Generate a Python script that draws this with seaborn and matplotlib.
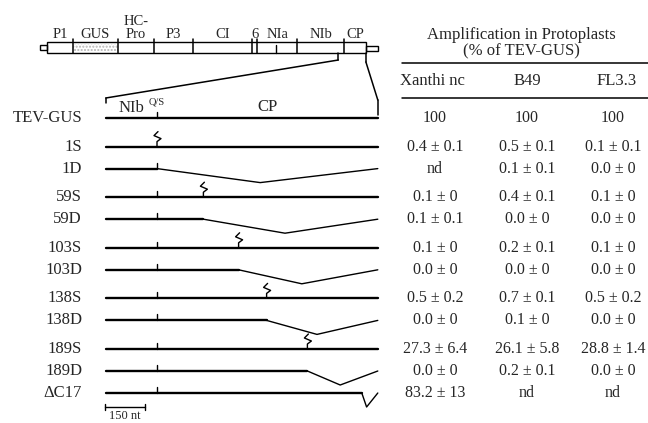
import numpy as np
import pandas as pd
import matplotlib
matplotlib.use("Agg")
import matplotlib.pyplot as plt
import seaborn as sns
from matplotlib.patches import Rectangle, ConnectionPatch
from matplotlib.lines import Line2D
from matplotlib.transforms import blended_transform_factory

# ---------------- data ----------------
gene_names = ["P1", "GUS", "HC-\nPro", "P3", "CI", "6", "NIa", "NIb", "CP"]
gene_starts_kb = [0.23, 1.10, 2.61, 3.81, 5.12, 7.09, 7.26, 8.60, 10.17]
gene_ends_kb = [1.10, 2.61, 3.81, 5.12, 7.09, 7.26, 8.60, 10.17, 10.90]
nia_internal_kb = 7.89
genome_end_kb = 11.30

constructs = ["TEV-GUS", "1S", "1D", "59S", "59D", "103S", "103D",
              "138S", "138D", "189S", "189D", "ΔC17"]
mut_type = ["wt", "S", "D", "S", "D", "S", "D", "S", "D", "S", "D", "D"]
mut_pos_aa = [None, 1, 1, 59, 59, 103, 103, 138, 138, 189, 189, 257]
del_bottom_aa = [None, None, 130, None, 161, None, 182, None, 201, None, 230, 263]
region_start_aa = -63
region_end_aa = 277
qs_site_aa = 1
scale_nt = 150

xanthi_mean = [100, 0.4, None, 0.1, 0.1, 0.1, 0.0, 0.5, 0.0, 27.3, 0.0, 83.2]
xanthi_sd = [None, 0.1, None, 0, 0.1, 0, 0, 0.2, 0, 6.4, 0, 13]
b49_mean = [100, 0.5, 0.1, 0.4, 0.0, 0.2, 0.0, 0.7, 0.1, 26.1, 0.2, None]
b49_sd = [None, 0.1, 0.1, 0.1, 0, 0.1, 0, 0.1, 0, 5.8, 0.1, None]
fl33_mean = [100, 0.1, 0.0, 0.1, 0.0, 0.1, 0.0, 0.5, 0.0, 28.8, 0.0, None]
fl33_sd = [None, 0.1, 0, 0, 0, 0, 0, 0.2, 0, 1.4, 0, None]
column_names = ["Xanthi nc", "B49", "FL3.3"]

# ---------------- layout (pixels) ----------------
W, H = 648, 423
MAP_X0, MAP_SCALE = 40, 29.9      # px = MAP_X0 + MAP_SCALE * kb
CP_X0, CP_SCALE = 157, 0.8        # px = CP_X0 + CP_SCALE * (aa - 1)
ROW_Y0, ROW_UNIT = 118, 22        # py = ROW_Y0 + ROW_UNIT * row

sns.set_theme(style="white")
plt.rcParams['font.family'] = ['Liberation Serif', 'DejaVu Serif']

fig = plt.figure(figsize=(W / 100, H / 100), dpi=100)

ax_map = fig.add_axes([0, 0, 1, 1])
ax_map.set_xlim((0 - MAP_X0) / MAP_SCALE, (W - MAP_X0) / MAP_SCALE)
ax_map.set_ylim(H, 0)
ax_map.axis("off")

ax_cp = fig.add_axes([0, 0, 1, 1])
ax_cp.patch.set_alpha(0)

px_aa = 1 / CP_SCALE   # aa per pixel
px_row = 1 / ROW_UNIT  # row per pixel

# ---------------- genome map ----------------
bar_top, bar_bot = 42.5, 53
ax_map.add_patch(Rectangle((gene_starts_kb[0], bar_top), gene_ends_kb[-1] - gene_starts_kb[0],
                           bar_bot - bar_top, fill=False, ec="black", lw=1.0))
ax_map.add_patch(Rectangle((gene_starts_kb[1], bar_top + 1.5), gene_ends_kb[1] - gene_starts_kb[1],
                           bar_bot - bar_top - 3, fill=False, ec="#b5b5b5", lw=0, hatch="....."))
ax_map.add_patch(Rectangle((0, 45), gene_starts_kb[0], 5, fill=False, ec="black", lw=1.0))
ax_map.add_patch(Rectangle((gene_ends_kb[-1], 46.5), genome_end_kb - gene_ends_kb[-1], 4.5,
                           fill=False, ec="black", lw=1.0))
for b in gene_ends_kb[:-1]:
    ax_map.plot([b, b], [39, bar_bot], color="black", lw=1.1)
ax_map.plot([nia_internal_kb] * 2, [45.5, bar_bot], color="black", lw=1.0)
for name, s, e in zip(gene_names, gene_starts_kb, gene_ends_kb):
    ax_map.text((s + e) / 2, 40.5, name, ha="center", va="bottom", fontsize=10.5,
                linespacing=0.95)

# ---------------- construct rows ----------------
row_y = []
y = 0.0
for i, t in enumerate(mut_type):
    if i > 0:
        y += 1.3 if t == "S" else 1.0
    row_y.append(y)

thick, thin = [], []
for i, (name, t, m, b) in enumerate(zip(constructs, mut_type, mut_pos_aa, del_bottom_aa)):
    ry = row_y[i]
    if t == "D":
        thick += [dict(c=name, x=region_start_aa, y=ry), dict(c=name, x=m, y=ry)]
        thin += [dict(c=name, x=m, y=ry), dict(c=name, x=b, y=ry + 14 * px_row),
                 dict(c=name, x=region_end_aa, y=ry)]
    else:
        thick += [dict(c=name, x=region_start_aa, y=ry), dict(c=name, x=region_end_aa, y=ry)]
thick_df = pd.DataFrame(thick)
thin_df = pd.DataFrame(thin)
sns.lineplot(data=thick_df, x="x", y="y", units="c", estimator=None, sort=False,
             color="black", lw=1.7, ax=ax_cp, legend=False)
sns.lineplot(data=thin_df, x="x", y="y", units="c", estimator=None, sort=False,
             color="black", lw=1.0, ax=ax_cp, legend=False)
ax_cp.set_xlim((0 - CP_X0) / CP_SCALE + 1, (W - CP_X0) / CP_SCALE + 1)
ax_cp.set_ylim((H - ROW_Y0) / ROW_UNIT, (0 - ROW_Y0) / ROW_UNIT)
ax_cp.axis("off")

# Q/S ticks and substitution symbols
zig = np.array([(0, 0), (0, -5), (4, -8), (-3, -11), (1, -15)], float)
for i, (t, m) in enumerate(zip(mut_type, mut_pos_aa)):
    ry = row_y[i]
    if not (t == "S" and m == qs_site_aa):
        ax_cp.plot([qs_site_aa] * 2, [ry, ry - 6 * px_row], color="black", lw=1.0)
    if t == "S":
        ax_cp.plot(m + zig[:, 0] * px_aa, ry + zig[:, 1] * px_row, color="black", lw=1.0)

tb = blended_transform_factory(ax_cp.transAxes, ax_cp.transData)
for i, name in enumerate(constructs):
    ax_cp.text(82 / W, row_y[i], name, transform=tb, ha="right", va="center", fontsize=12)

# region labels
ax_cp.text((region_start_aa + qs_site_aa) / 2, -0.45, "NIb", ha="center", va="center", fontsize=12)
ax_cp.text(qs_site_aa, -0.72, "Q/S", ha="center", va="center", fontsize=7.5)
ax_cp.text((qs_site_aa + region_end_aa) / 2, -0.5, "CP", ha="center", va="center", fontsize=12)

# scale bar
sb_y = (407 - ROW_Y0) / ROW_UNIT
sb_x0 = region_start_aa - 1
sb_x1 = sb_x0 + scale_nt / 3
ax_cp.plot([sb_x0, sb_x1], [sb_y, sb_y], color="black", lw=1.0)
for xx in (sb_x0, sb_x1):
    ax_cp.plot([xx, xx], [sb_y - 3 * px_row, sb_y + 3 * px_row], color="black", lw=1.0)
ax_cp.text((sb_x0 + sb_x1) / 2, sb_y + 9 * px_row, f"{scale_nt} nt", ha="center",
           va="center", fontsize=9)

# expansion lines
cp_start_kb = gene_starts_kb[-1]
left_kb = cp_start_kb + (region_start_aa - 1) * 3 / 1000
right_kb = gene_ends_kb[-1]
ax_map.plot([left_kb, left_kb], [bar_bot, 60], color="black", lw=1.1)
ax_map.plot([right_kb, right_kb], [bar_bot, 62], color="black", lw=1.1)
r_top = (98 - ROW_Y0) / ROW_UNIT
for xa, ya, xb, yb, yb2 in [(left_kb, 60, region_start_aa, r_top, r_top + 5 * px_row),
                            (right_kb, 62, region_end_aa, r_top + 2 * px_row, -3 * px_row)]:
    con = ConnectionPatch(xyA=(xa, ya), coordsA=ax_map.transData, xyB=(xb, yb),
                          coordsB=ax_cp.transData, color="black", lw=1.1)
    fig.add_artist(con)
    ax_cp.plot([xb, xb], [yb, yb2], color="black", lw=1.1)

# ---------------- table ----------------
def fmt(mean, sd):
    if mean is None:
        return "nd"
    if sd is None:
        return f"{mean:g}"
    s = "0" if sd == 0 else (f"{sd:.0f}" if sd >= 10 else f"{sd:.1f}")
    return f"{mean:.1f} ± {s}"

col_px = [435, 527, 613]
fig.text(521 / W, 1 - 35 / H, "Amplification in Protoplasts", ha="center", va="center", fontsize=12)
fig.text(521 / W, 1 - 51 / H, "(% of TEV-GUS)", ha="center", va="center", fontsize=12)
for yy in (63, 98):
    fig.add_artist(Line2D([402 / W, 1.0], [1 - yy / H] * 2, transform=fig.transFigure,
                          color="black", lw=1.1))
head_px = [432, 527, 617]
for hx, hn in zip(head_px, column_names):
    fig.text(hx / W, 1 - 81 / H, hn, ha="center", va="center", fontsize=12)

for cx, means, sds in zip(col_px, [xanthi_mean, b49_mean, fl33_mean],
                          [xanthi_sd, b49_sd, fl33_sd]):
    for i in range(len(constructs)):
        ax_cp.text(cx / W, row_y[i], fmt(means[i], sds[i]), transform=tb,
                   ha="center", va="center", fontsize=11.5)

fig.savefig("out.png", dpi=100)
